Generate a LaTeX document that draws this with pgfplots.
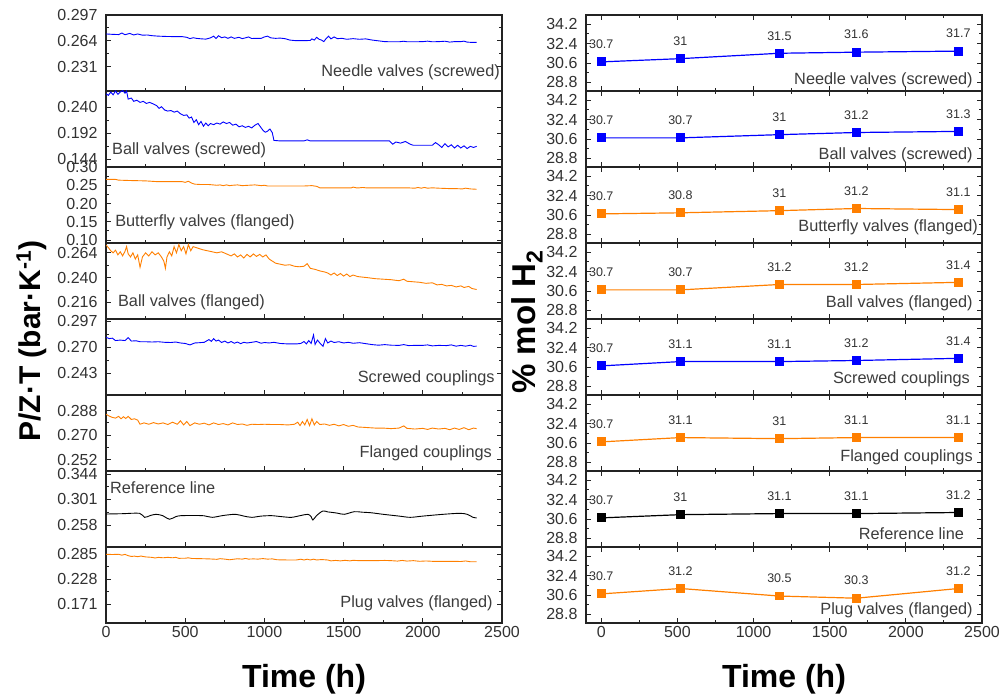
\documentclass[border=0pt]{standalone}
\usepackage{fontspec}
\setmainfont{Liberation Sans}
\usepackage{pgfplots}
\pgfplotsset{compat=1.18}
\definecolor{myblue}{RGB}{0,0,255}
\definecolor{myorange}{RGB}{255,127,0}
\definecolor{axcol}{RGB}{35,35,35}
\definecolor{tickcol}{RGB}{50,50,50}
\definecolor{labcol}{RGB}{60,60,60}
\newcommand{\plabel}[4]{\node[anchor=#1, inner sep=0pt, font=\fontsize{16.3}{17}\selectfont, text=labcol] at (rel axis cs:#2,#3) {#4};}
\pgfplotsset{
  base/.style={scale only axis, width=396pt, height=76pt,
    axis line style={draw=axcol, line width=1.1pt},
    tick style={draw=axcol, line width=0.9pt},
    major tick length=5pt, minor tick length=3pt, tick align=inside,
    ytick pos=both, yticklabel pos=left,
    tick label style={font=\fontsize{16}{16}\selectfont, text=tickcol},
    yticklabel style={xshift=-5pt},
    minor x tick num=1, minor y tick num=1,
    xtick={0,500,1000,1500,2000,2500}, scaled ticks=false,
    anchor=south west},
  leftp/.style={base, xmin=0, xmax=2500, xtick pos=left, xticklabels={}},
  rightp/.style={base, xmin=-100, xmax=2500, xtick pos=both, xticklabels={},
    ymin=28, ymax=35.05, ytick={28.8,30.6,32.4,34.2}, yticklabels={28.8,30.6,32.4,34.2},
    clip=false, point meta=explicit symbolic, nodes near coords,
    every node near coord/.append style={anchor=south, inner sep=0pt, yshift=12.5pt,
      font=\fontsize{12.5}{12.5}\selectfont, text=tickcol}},
  lline/.style={line width=0.9pt},
  rline/.style={line width=1.2pt, mark=square*, mark size=3.8pt, mark options={solid}},
}
\begin{document}
\begin{tikzpicture}
\path[use as bounding box] (0,0) rectangle (1000pt,693pt);
% ---------------- LEFT COLUMN ----------------
\begin{axis}[leftp, at={(106pt,602pt)}, ymin=0.200, ymax=0.297, ytick={0.231,0.264,0.297}, yticklabels={0.231,0.264,0.297}]
\addplot[myblue, lline] coordinates {(0,0.2728) (40,0.2723) (80,0.2720) (100,0.2740) (120,0.2718) (150,0.2735) (175,0.2715) (200,0.2728) (230,0.2712) (260,0.2715) (290,0.2706) (330,0.2700) (380,0.2696) (430,0.2694) (480,0.2694) (510,0.2685) (530,0.2668) (550,0.2680) (570,0.2672) (600,0.2666) (630,0.2662) (660,0.2678) (680,0.2700) (695,0.2670) (710,0.2705) (730,0.2680) (750,0.2690) (770,0.2672) (790,0.2690) (810,0.2672) (840,0.2685) (860,0.2668) (880,0.2678) (900,0.2690) (920,0.2670) (950,0.2672) (980,0.2672) (1000,0.2690) (1020,0.2700) (1040,0.2678) (1070,0.2672) (1100,0.2675) (1130,0.2668) (1160,0.2650) (1200,0.2642) (1250,0.2642) (1290,0.2645) (1300,0.2665) (1315,0.2650) (1330,0.2685) (1345,0.2660) (1360,0.2650) (1375,0.2630) (1390,0.2670) (1405,0.2700) (1420,0.2665) (1440,0.2690) (1460,0.2668) (1490,0.2672) (1520,0.2660) (1560,0.2668) (1600,0.2660) (1640,0.2665) (1680,0.2650) (1720,0.2640) (1760,0.2630) (1800,0.2628) (1850,0.2628) (1880,0.2635) (1900,0.2628) (1950,0.2628) (2000,0.2630) (2030,0.2636) (2060,0.2628) (2100,0.2630) (2140,0.2635) (2170,0.2624) (2200,0.2630) (2240,0.2630) (2260,0.2636) (2280,0.2624) (2310,0.2620) (2340,0.2620)};
\plabel{east}{0.995}{0.25}{Needle valves (screwed)}
\end{axis}
\begin{axis}[leftp, at={(106pt,526pt)}, ymin=0.130, ymax=0.270, ytick={0.144,0.192,0.240}, yticklabels={0.144,0.192,0.240}]
\addplot[myblue, lline] coordinates {(0,0.265) (15,0.262) (30,0.268) (45,0.263) (60,0.270) (75,0.264) (90,0.268) (105,0.271) (120,0.266) (130,0.270) (140,0.255) (160,0.257) (175,0.251) (195,0.253) (215,0.249) (235,0.251) (255,0.247) (275,0.249) (300,0.246) (320,0.243) (335,0.238) (350,0.241) (370,0.235) (390,0.233) (410,0.234) (430,0.231) (450,0.233) (470,0.228) (490,0.225) (510,0.226) (525,0.220) (540,0.222) (555,0.212) (570,0.217) (585,0.208) (600,0.214) (615,0.205) (630,0.211) (645,0.206) (660,0.210) (680,0.208) (700,0.211) (720,0.209) (740,0.213) (760,0.210) (780,0.212) (800,0.207) (820,0.209) (840,0.204) (860,0.206) (880,0.203) (900,0.205) (920,0.202) (940,0.207) (960,0.210) (975,0.204) (990,0.198) (1005,0.194) (1020,0.196) (1035,0.200) (1050,0.193) (1060,0.179) (1100,0.178) (1200,0.178) (1250,0.178) (1270,0.180) (1290,0.178) (1400,0.178) (1500,0.178) (1600,0.178) (1700,0.178) (1790,0.178) (1810,0.172) (1830,0.176) (1860,0.174) (1890,0.177) (1920,0.172) (1940,0.170) (2000,0.170) (2060,0.170) (2080,0.175) (2100,0.171) (2120,0.166) (2140,0.173) (2160,0.167) (2180,0.171) (2200,0.165) (2220,0.170) (2240,0.165) (2260,0.169) (2280,0.164) (2300,0.168) (2320,0.166) (2340,0.168)};
\plabel{west}{0.015}{0.224}{Ball valves (screwed)}
\end{axis}
\begin{axis}[leftp, at={(106pt,450pt)}, ymin=0.092, ymax=0.300, ytick={0.10,0.15,0.20,0.25,0.30}, yticklabels={0.10,0.15,0.20,0.25,0.30}]
\addplot[myorange, lline] coordinates {(0,0.266) (60,0.266) (80,0.264) (150,0.263) (250,0.262) (320,0.260) (400,0.260) (480,0.260) (500,0.258) (520,0.261) (540,0.256) (560,0.253) (600,0.252) (650,0.252) (700,0.250) (720,0.251) (740,0.249) (760,0.251) (780,0.249) (800,0.250) (830,0.251) (860,0.249) (900,0.250) (940,0.251) (980,0.249) (1000,0.250) (1020,0.248) (1100,0.248) (1200,0.248) (1250,0.248) (1300,0.249) (1330,0.247) (1350,0.243) (1500,0.243) (1550,0.243) (1560,0.245) (1580,0.243) (1600,0.243) (1620,0.244) (1640,0.243) (1800,0.243) (1900,0.243) (1950,0.242) (1970,0.244) (1990,0.242) (2010,0.244) (2030,0.242) (2060,0.243) (2100,0.242) (2160,0.241) (2200,0.241) (2250,0.240) (2270,0.242) (2300,0.240) (2340,0.239)};
\plabel{west}{0.023}{0.276}{Butterfly valves (flanged)}
\end{axis}
\begin{axis}[leftp, at={(106pt,374pt)}, ymin=0.200, ymax=0.2735, ytick={0.216,0.240,0.264}, yticklabels={0.216,0.240,0.264}]
\addplot[myorange, lline] coordinates {(0,0.2716) (15,0.2690) (30,0.2660) (45,0.2640) (60,0.2665) (75,0.2620) (90,0.2650) (105,0.2610) (120,0.2655) (130,0.2700) (140,0.2630) (155,0.2600) (170,0.2640) (185,0.2580) (200,0.2620) (215,0.2500) (230,0.2600) (250,0.2640) (270,0.2610) (290,0.2650) (310,0.2620) (330,0.2640) (350,0.2600) (365,0.2560) (375,0.2490) (385,0.2600) (400,0.2650) (415,0.2610) (430,0.2700) (445,0.2640) (460,0.2720) (475,0.2660) (490,0.2700) (505,0.2630) (520,0.2720) (535,0.2660) (550,0.2700) (570,0.2690) (590,0.2680) (610,0.2670) (640,0.2660) (670,0.2650) (700,0.2640) (730,0.2650) (760,0.2630) (790,0.2610) (810,0.2630) (830,0.2600) (850,0.2620) (870,0.2590) (890,0.2625) (910,0.2600) (930,0.2630) (950,0.2605) (970,0.2625) (990,0.2600) (1010,0.2620) (1030,0.2580) (1050,0.2560) (1070,0.2540) (1100,0.2530) (1130,0.2520) (1160,0.2525) (1190,0.2510) (1220,0.2505) (1250,0.2510) (1270,0.2535) (1290,0.2490) (1320,0.2480) (1350,0.2465) (1380,0.2455) (1400,0.2445) (1420,0.2425) (1440,0.2445) (1460,0.2420) (1480,0.2440) (1500,0.2415) (1520,0.2435) (1540,0.2410) (1560,0.2425) (1590,0.2410) (1620,0.2405) (1650,0.2400) (1700,0.2390) (1750,0.2385) (1800,0.2380) (1850,0.2370) (1880,0.2385) (1900,0.2365) (1940,0.2360) (1980,0.2355) (2020,0.2345) (2060,0.2350) (2090,0.2330) (2120,0.2335) (2150,0.2320) (2180,0.2325) (2210,0.2310) (2240,0.2320) (2260,0.2305) (2290,0.2315) (2310,0.2295) (2340,0.2285)};
\plabel{west}{0.03}{0.224}{Ball valves (flanged)}
\end{axis}
\begin{axis}[leftp, at={(106pt,298pt)}, ymin=0.2205, ymax=0.2994, ytick={0.243,0.270,0.297}, yticklabels={0.243,0.270,0.297}]
\addplot[myblue, lline] coordinates {(0,0.2805) (20,0.2790) (40,0.2795) (60,0.2770) (90,0.2775) (120,0.2770) (140,0.2800) (160,0.2765) (190,0.2768) (215,0.2758) (250,0.2758) (290,0.2755) (330,0.2758) (370,0.2752) (410,0.2750) (440,0.2755) (470,0.2745) (500,0.2740) (530,0.2725) (560,0.2745) (590,0.2748) (620,0.2752) (650,0.2780) (665,0.2762) (680,0.2790) (695,0.2765) (710,0.2775) (730,0.2750) (750,0.2765) (770,0.2745) (790,0.2760) (810,0.2742) (830,0.2755) (850,0.2738) (870,0.2752) (890,0.2745) (920,0.2752) (950,0.2760) (980,0.2742) (1000,0.2750) (1030,0.2745) (1060,0.2752) (1100,0.2740) (1150,0.2735) (1200,0.2735) (1230,0.2740) (1250,0.2760) (1265,0.2735) (1280,0.2770) (1295,0.2740) (1310,0.2828) (1320,0.2730) (1335,0.2775) (1350,0.2745) (1370,0.2710) (1385,0.2790) (1400,0.2745) (1420,0.2765) (1440,0.2750) (1470,0.2758) (1500,0.2745) (1530,0.2752) (1560,0.2742) (1600,0.2748) (1640,0.2738) (1680,0.2728) (1720,0.2722) (1760,0.2728) (1800,0.2722) (1850,0.2720) (1880,0.2728) (1910,0.2718) (1950,0.2720) (2000,0.2720) (2030,0.2725) (2060,0.2715) (2100,0.2720) (2150,0.2718) (2180,0.2725) (2210,0.2712) (2240,0.2720) (2270,0.2712) (2300,0.2722) (2320,0.2710) (2340,0.2712)};
\plabel{east}{0.982}{0.224}{Screwed couplings}
\end{axis}
\begin{axis}[leftp, at={(106pt,222pt)}, ymin=0.2438, ymax=0.2994, ytick={0.252,0.270,0.288}, yticklabels={0.252,0.270,0.288}]
\addplot[myorange, lline] coordinates {(0,0.2853) (20,0.2840) (40,0.2830) (60,0.2825) (80,0.2838) (95,0.2820) (110,0.2835) (125,0.2822) (140,0.2838) (160,0.2815) (180,0.2820) (200,0.2810) (215,0.2780) (240,0.2790) (270,0.2780) (300,0.2792) (330,0.2782) (360,0.2790) (390,0.2778) (420,0.2795) (450,0.2780) (470,0.2805) (490,0.2775) (510,0.2800) (530,0.2770) (560,0.2790) (590,0.2780) (620,0.2788) (650,0.2775) (680,0.2790) (710,0.2778) (740,0.2785) (770,0.2775) (800,0.2790) (830,0.2778) (860,0.2782) (890,0.2772) (920,0.2780) (960,0.2778) (1000,0.2780) (1050,0.2778) (1100,0.2778) (1150,0.2775) (1190,0.2780) (1210,0.2795) (1225,0.2770) (1240,0.2800) (1255,0.2775) (1270,0.2815) (1285,0.2770) (1300,0.2820) (1315,0.2775) (1330,0.2800) (1350,0.2778) (1380,0.2782) (1410,0.2772) (1440,0.2780) (1470,0.2768) (1500,0.2778) (1530,0.2765) (1560,0.2772) (1590,0.2760) (1620,0.2758) (1660,0.2755) (1700,0.2752) (1750,0.2752) (1800,0.2748) (1850,0.2752) (1880,0.2768) (1900,0.2750) (1950,0.2745) (2000,0.2750) (2030,0.2742) (2060,0.2752) (2100,0.2745) (2140,0.2750) (2170,0.2740) (2200,0.2752) (2230,0.2742) (2260,0.2755) (2290,0.2740) (2320,0.2752) (2340,0.2748)};
\plabel{east}{0.975}{0.237}{Flanged couplings}
\end{axis}
\begin{axis}[leftp, at={(106pt,146pt)}, ymin=0.2209, ymax=0.349, ytick={0.258,0.301,0.344}, yticklabels={0.258,0.301,0.344}]
\addplot[black, lline, smooth] coordinates {(0,0.2765) (100,0.2770) (212,0.2777) (244,0.2709) (280,0.2740) (317,0.2760) (360,0.2735) (400,0.2676) (440,0.2720) (473,0.2737) (560,0.2740) (620,0.2735) (671,0.2709) (740,0.2740) (817,0.2760) (870,0.2730) (921,0.2709) (980,0.2730) (1046,0.2737) (1110,0.2720) (1171,0.2709) (1230,0.2740) (1275,0.2760) (1295,0.2720) (1306,0.2664) (1330,0.2740) (1369,0.2816) (1400,0.2800) (1421,0.2794) (1460,0.2780) (1504,0.2760) (1567,0.2804) (1620,0.2795) (1671,0.2787) (1750,0.2760) (1850,0.2730) (1921,0.2709) (2000,0.2730) (2129,0.2760) (2233,0.2777) (2280,0.2760) (2317,0.2709) (2340,0.2700)};
\plabel{west}{0.01}{0.776}{Reference line}
\end{axis}
\begin{axis}[leftp, at={(106pt,70pt)}, ymin=0.1284, ymax=0.3016, ytick={0.171,0.228,0.285}, yticklabels={0.171,0.228,0.285}, xticklabels={0,500,1000,1500,2000,2500}]
\addplot[myorange, lline] coordinates {(0,0.2850) (40,0.2845) (80,0.2850) (100,0.2830) (120,0.2848) (140,0.2818) (160,0.2800) (180,0.2808) (200,0.2795) (220,0.2810) (250,0.2790) (290,0.2780) (310,0.2765) (330,0.2780) (360,0.2770) (390,0.2780) (420,0.2770) (440,0.2780) (460,0.2758) (500,0.2760) (520,0.2770) (540,0.2755) (600,0.2750) (650,0.2745) (700,0.2735) (720,0.2750) (750,0.2740) (780,0.2725) (800,0.2735) (830,0.2748) (860,0.2740) (880,0.2755) (900,0.2740) (930,0.2745) (960,0.2740) (990,0.2752) (1020,0.2740) (1050,0.2745) (1080,0.2725) (1150,0.2720) (1200,0.2720) (1230,0.2738) (1250,0.2720) (1270,0.2738) (1290,0.2720) (1310,0.2738) (1330,0.2720) (1360,0.2730) (1400,0.2720) (1420,0.2700) (1450,0.2710) (1480,0.2700) (1510,0.2712) (1540,0.2700) (1560,0.2712) (1600,0.2705) (1650,0.2705) (1700,0.2705) (1760,0.2710) (1800,0.2705) (1840,0.2695) (1870,0.2710) (1900,0.2695) (1940,0.2705) (1980,0.2690) (2020,0.2698) (2060,0.2690) (2100,0.2690) (2150,0.2688) (2200,0.2690) (2240,0.2685) (2270,0.2698) (2300,0.2680) (2340,0.2680)};
\plabel{east}{0.977}{0.263}{Plug valves (flanged)}
\end{axis}
% ---------------- RIGHT COLUMN ----------------
\begin{axis}[rightp, at={(586pt,602pt)}]
\addplot[myblue, rline] coordinates {(0,30.7) [30.7] (520,31.0) [31] (1170,31.5) [31.5] (1675,31.6) [31.6] (2345,31.7) [31.7]};
\plabel{east}{0.977}{0.145}{Needle valves (screwed)}
\end{axis}
\begin{axis}[rightp, at={(586pt,526pt)}]
\addplot[myblue, rline] coordinates {(0,30.7) [30.7] (520,30.7) [30.7] (1170,31.0) [31] (1675,31.2) [31.2] (2345,31.3) [31.3]};
\plabel{east}{0.977}{0.158}{Ball valves (screwed)}
\end{axis}
\begin{axis}[rightp, at={(586pt,450pt)}]
\addplot[myorange, rline] coordinates {(0,30.7) [30.7] (520,30.8) [30.8] (1170,31.0) [31] (1675,31.2) [31.2] (2345,31.1) [31.1]};
\plabel{east}{0.99}{0.21}{Butterfly valves (flanged)}
\end{axis}
\begin{axis}[rightp, at={(586pt,374pt)}]
\addplot[myorange, rline] coordinates {(0,30.7) [30.7] (520,30.7) [30.7] (1170,31.2) [31.2] (1675,31.2) [31.2] (2345,31.4) [31.4]};
\plabel{east}{0.977}{0.21}{Ball valves (flanged)}
\end{axis}
\begin{axis}[rightp, at={(586pt,298pt)}]
\addplot[myblue, rline] coordinates {(0,30.7) [30.7] (520,31.1) [31.1] (1170,31.1) [31.1] (1675,31.2) [31.2] (2345,31.4) [31.4]};
\plabel{east}{0.97}{0.21}{Screwed couplings}
\end{axis}
\begin{axis}[rightp, at={(586pt,222pt)}]
\addplot[myorange, rline] coordinates {(0,30.7) [30.7] (520,31.1) [31.1] (1170,31.0) [31] (1675,31.1) [31.1] (2345,31.1) [31.1]};
\plabel{east}{0.977}{0.184}{Flanged couplings}
\end{axis}
\begin{axis}[rightp, at={(586pt,146pt)}]
\addplot[black, rline] coordinates {(0,30.7) [30.7] (520,31.0) [31] (1170,31.1) [31.1] (1675,31.1) [31.1] (2345,31.2) [31.2]};
\plabel{east}{0.955}{0.17}{Reference line}
\end{axis}
\begin{axis}[rightp, at={(586pt,70pt)}, xticklabels={0,500,1000,1500,2000,2500}]
\addplot[myorange, rline] coordinates {(0,30.7) [30.7] (520,31.2) [31.2] (1170,30.5) [30.5] (1675,30.3) [30.3] (2345,31.2) [31.2]};
\plabel{east}{0.977}{0.17}{Plug valves (flanged)}
\end{axis}
% ---------------- AXIS TITLES ----------------
\node[rotate=90, anchor=base, font=\bfseries\fontsize{30}{30}\selectfont] at (40pt,352pt) {P/Z·T (bar·K\textsuperscript{-1})};
\node[rotate=90, anchor=base, font=\bfseries\fontsize{33}{33}\selectfont] at (535pt,371pt) {\% mol H\textsubscript{2}};
\node[anchor=base, font=\bfseries\fontsize{32}{32}\selectfont] at (304pt,6pt) {Time (h)};
\node[anchor=base, font=\bfseries\fontsize{32}{32}\selectfont] at (784pt,6pt) {Time (h)};
\end{tikzpicture}
\end{document}
